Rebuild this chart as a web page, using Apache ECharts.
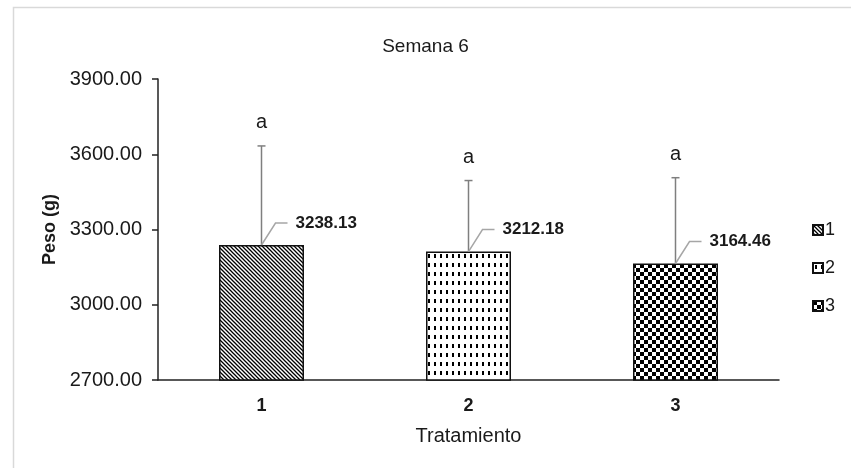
<!DOCTYPE html>
<html>
<head>
<meta charset="utf-8">
<script src="https://cdn.jsdelivr.net/npm/echarts@6/dist/echarts.min.js"></script>
<style>
  html, body { margin: 0; padding: 0; background: #fff; }
  #chart { width: 851px; height: 468px; }
</style>
</head>
<body>
<div id="chart"></div>
<script>
// datos
var categorias = ['1', '2', '3'];
var medias = [3238.13, 3212.18, 3164.46];
var errores = [395, 283, 342];      // barra de error superior
var letras = ['a', 'a', 'a'];
var ticksY = [2700, 3000, 3300, 3600, 3900];

var FONT = '"Liberation Sans", Arial, sans-serif';

// patrones de relleno tipo Excel
function patronDiagonal() {
    var c = document.createElement('canvas');
    c.width = 4; c.height = 4;
    var g = c.getContext('2d');
    g.fillStyle = '#fff';
    g.fillRect(0, 0, 4, 4);
    g.strokeStyle = '#000';
    g.lineWidth = 1.3;
    g.beginPath();
    g.moveTo(-1, -1); g.lineTo(5, 5);
    g.moveTo(-1, 3); g.lineTo(1, 5);
    g.moveTo(3, -1); g.lineTo(5, 1);
    g.stroke();
    return c;
}
function patronGuiones() {
    var c = document.createElement('canvas');
    c.width = 6; c.height = 9;
    var g = c.getContext('2d');
    g.fillStyle = '#fff';
    g.fillRect(0, 0, 6, 9);
    g.fillStyle = '#000';
    g.fillRect(2, 2, 2, 4);
    return c;
}
function patronAjedrez() {
    var c = document.createElement('canvas');
    c.width = 8; c.height = 8;
    var g = c.getContext('2d');
    g.fillStyle = '#fff';
    g.fillRect(0, 0, 8, 8);
    g.fillStyle = '#000';
    g.fillRect(0, 0, 4, 4);
    g.fillRect(4, 4, 4, 4);
    return c;
}
var patrones = [patronDiagonal(), patronGuiones(), patronAjedrez()];

var chart = echarts.init(document.getElementById('chart'));

var seriesBarras = categorias.map(function (cat, i) {
    var d = categorias.map(function (c, j) { return j === i ? medias[j] : '-'; });
    return {
        name: cat,
        type: 'bar',
        data: d,
        barWidth: 85,
        barGap: '-100%',
        itemStyle: {
            color: { image: patrones[i], repeat: 'repeat' },
            borderColor: '#111',
            borderWidth: 1.5
        },
        emphasis: { disabled: true }
    };
});

chart.setOption({
    animation: false,
    graphic: [{
        type: 'rect',
        left: 11, top: 5,
        shape: { width: 900, height: 500 },
        style: { fill: 'none', stroke: '#d9d9d9', lineWidth: 1.5 },
        silent: true
    }],
    title: {
        text: 'Semana 6',
        left: 'center',
        top: 32,
        textStyle: { fontFamily: FONT, fontSize: 19, fontWeight: 'normal', color: '#1a1a1a' }
    },
    legend: {
        orient: 'vertical',
        left: 807,
        top: 216,
        itemWidth: 10,
        itemHeight: 10,
        itemGap: 20,
        icon: 'rect',
        data: categorias,
        textStyle: { fontFamily: FONT, fontSize: 18, color: '#1a1a1a', padding: [0, 0, 0, -3] }
    },
    grid: { left: 158, right: 72, top: 79, bottom: 88 },
    xAxis: {
        type: 'category',
        data: categorias,
        name: 'Tratamiento',
        nameLocation: 'middle',
        nameGap: 46,
        nameTextStyle: { fontFamily: FONT, fontSize: 20, color: '#1a1a1a' },
        axisLine: { lineStyle: { color: '#222', width: 1.5 } },
        axisTick: { alignWithLabel: true, length: 5, lineStyle: { color: '#222', width: 1.5 } },
        axisLabel: { fontFamily: FONT, fontSize: 18, fontWeight: 'bold', color: '#1a1a1a', margin: 17 }
    },
    yAxis: {
        type: 'value',
        min: ticksY[0],
        max: ticksY[ticksY.length - 1],
        interval: ticksY[1] - ticksY[0],
        name: 'Peso (g)',
        nameLocation: 'middle',
        nameGap: 98,
        nameRotate: 90,
        nameTextStyle: { fontFamily: FONT, fontSize: 18, fontWeight: 'bold', color: '#1a1a1a' },
        axisLine: { show: true, lineStyle: { color: '#222', width: 1.5 } },
        axisTick: { show: true, length: 6, lineStyle: { color: '#222', width: 1.5 } },
        splitLine: { show: false },
        axisLabel: {
            fontFamily: FONT, fontSize: 20, color: '#1a1a1a', margin: 16,
            formatter: function (v) { return v.toFixed(2); }
        }
    },
    series: seriesBarras.concat([{
        type: 'custom',
        z: 5,
        silent: true,
        data: categorias.map(function (c, i) { return [i, medias[i], medias[i] + errores[i]]; }),
        renderItem: function (params, api) {
            var i = params.dataIndex;
            var base = api.coord([api.value(0), api.value(1)]);
            var top = api.coord([api.value(0), api.value(2)]);
            var x = base[0], yb = base[1], yt = top[1];
            var ly = yb - 22;
            return {
                type: 'group',
                children: [
                    { type: 'line', shape: { x1: x, y1: yb, x2: x, y2: yt },
                      style: { stroke: '#7f7f7f', lineWidth: 1.5 } },
                    { type: 'line', shape: { x1: x - 4, y1: yt, x2: x + 4, y2: yt },
                      style: { stroke: '#7f7f7f', lineWidth: 1.5 } },
                    { type: 'text', x: x, y: yt - 23,
                      style: { text: letras[i], fontFamily: FONT, fontSize: 20, fill: '#1a1a1a',
                               align: 'center', verticalAlign: 'middle' } },
                    { type: 'polyline', shape: { points: [[x, yb], [x + 14, ly], [x + 26, ly]] },
                      style: { stroke: '#a6a6a6', lineWidth: 1.5, fill: 'none' } },
                    { type: 'text', x: x + 34, y: ly,
                      style: { text: medias[i].toFixed(2), fontFamily: FONT, fontSize: 17, fontWeight: 'bold',
                               fill: '#1a1a1a', align: 'left', verticalAlign: 'middle' } }
                ]
            };
        }
    }])
});
</script>
</body>
</html>
